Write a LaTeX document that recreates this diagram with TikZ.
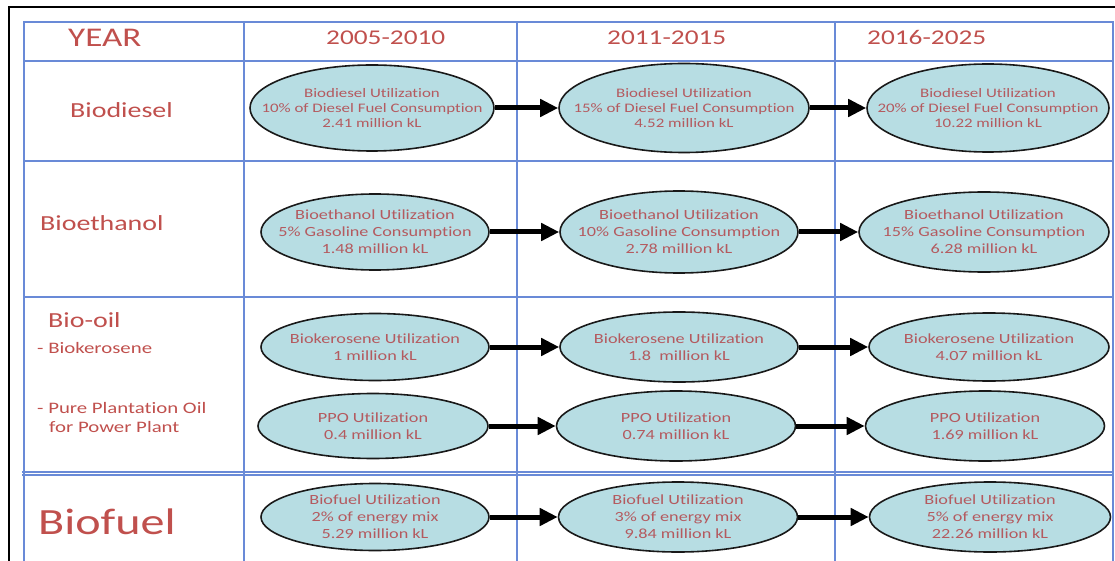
\documentclass[tikz,border=0pt]{standalone}
\usepackage{fontspec}
\setmainfont{Carlito}[FakeStretch=1.3,Ligatures=NoCommon]
\usepackage{xcolor}
\usetikzlibrary{arrows.meta,shapes.geometric,positioning}
\definecolor{BFRed}{RGB}{192,80,77}
\definecolor{BFText}{RGB}{180,90,95}
\definecolor{BFFill}{RGB}{183,221,227}
\definecolor{BFBlue}{RGB}{105,138,215}
\definecolor{BFDark}{RGB}{25,25,25}
\tikzset{
  ubox/.style={ellipse,draw=BFDark,line width=1.6pt,fill=BFFill,text=BFText,align=center,inner xsep=-40pt,inner ysep=-10pt,font=\fontsize{14}{17}\selectfont},
  sbox/.style={ubox,font=\fontsize{13}{15.3}\selectfont},
  hlbl/.style={anchor=base west,text=BFRed,inner sep=0pt,font=\fontsize{21}{24}\selectfont},
  rlbl/.style={hlbl,font=\fontsize{21.5}{24}\selectfont},
  slbl/.style={hlbl,font=\fontsize{16}{19}\selectfont},
  arr/.style={-{Triangle[length=18pt,width=17pt]},line width=5pt,black},
  gline/.style={draw=BFBlue,line width=1.1pt},
}

\begin{document}
\begin{tikzpicture}[x=1pt,y=-1pt]
    \useasboundingbox (0,0) rectangle (1115,561);
    %% Frame and table
    \draw[black,line width=1.2pt] (9,561) -- (9,7) -- (1115,7);
    \draw[gline] (24,561) -- (24,22) -- (1113,22) -- (1113,561);
    \foreach \x in {244,517,835} \draw[gline] (\x,22) -- (\x,561);
    \foreach \y in {61,161,297} \draw[gline] (24,\y) -- (1113,\y);
    \draw[gline] (22,472) -- (1113,472);
    \draw[gline] (22,475) -- (1113,475);
    %% Header
    \node[hlbl,font=\fontsize{27}{30}\selectfont] (year) at (68,47) {YEAR};
    \node[hlbl] (h1) at (326,45) {2005-2010};
    \node[hlbl] (h2) at (607,45) {2011-2015};
    \node[hlbl] (h3) at (867,45) {2016-2025};
    %% Row labels
    \node[rlbl] (diesel)  at (70,118)  {Biodiesel};
    \node[rlbl] (ethanol) at (40,231)  {Bioethanol};
    \node[rlbl] (biooil)  at (48,327)  {Bio-oil};
    \node[slbl] (kero)    at (37,353)  {- Biokerosene};
    \node[slbl] (ppo)     at (37,413)  {- Pure Plantation Oil};
    \node[slbl] (ppob)    at (49,432)  {for Power Plant};
    \node[hlbl,font=\fontsize{37}{40}\selectfont] (fuel) at (38,534) {Biofuel};
    %% Biodiesel
    \node[sbox,minimum width=244pt,minimum height=86pt] (d1) at (372,108) {Biodiesel Utilization\\10\% of Diesel Fuel Consumption\\2.41 million kL};
    \node[sbox,minimum width=250pt,minimum height=89pt] (d2) at (684,108) {Biodiesel Utilization\\15\% of Diesel Fuel Consumption\\4.52 million kL};
    \node[sbox,minimum width=242pt,minimum height=88pt] (d3) at (988,108) {Biodiesel Utilization\\20\% of Diesel Fuel Consumption\\10.22 million kL};
    %% Bioethanol
    \node[ubox,minimum width=228pt,minimum height=76pt] (e1) at (375,232) {Bioethanol Utilization\\5\% Gasoline Consumption\\1.48 million kL};
    \node[ubox,minimum width=238pt,minimum height=82pt] (e2) at (679,232) {Bioethanol Utilization\\10\% Gasoline Consumption\\2.78 million kL};
    \node[ubox,minimum width=250pt,minimum height=80pt] (e3) at (984,232) {Bioethanol Utilization\\15\% Gasoline Consumption\\6.28 million kL};
    %% Biokerosene
    \node[ubox,minimum width=228pt,minimum height=67pt] (k1) at (375,347) {Biokerosene Utilization\\1 million kL};
    \node[ubox,minimum width=238pt,minimum height=70pt] (k2) at (679,347) {Biokerosene Utilization\\1.8\ \ million kL};
    \node[ubox,minimum width=240pt,minimum height=68pt] (k3) at (989,347) {Biokerosene Utilization\\4.07 million kL};
    %% PPO
    \node[ubox,minimum width=230pt,minimum height=65pt] (p1) at (373,426) {PPO Utilization\\0.4 million kL};
    \node[ubox,minimum width=239pt,minimum height=70pt] (p2) at (676,426) {PPO Utilization\\0.74 million kL};
    \node[ubox,minimum width=239pt,minimum height=70pt] (p3) at (985,426) {PPO Utilization\\1.69 million kL};
    %% Biofuel
    \node[ubox,minimum width=228pt,minimum height=67pt] (f1) at (375,517) {Biofuel Utilization\\2\% of energy mix\\5.29 million kL};
    \node[ubox,minimum width=239pt,minimum height=70pt] (f2) at (678,517) {Biofuel Utilization\\3\% of energy mix\\9.84 million kL};
    \node[ubox,minimum width=241pt,minimum height=70pt] (f3) at (990,517) {Biofuel Utilization\\5\% of energy mix\\22.26 million kL};
    %% Arrows
    \foreach \r in {d,e,k,p,f} {
      \draw[arr] (\r1) -- (\r2);
      \draw[arr] (\r2) -- (\r3);
    }
\end{tikzpicture}
\end{document}
